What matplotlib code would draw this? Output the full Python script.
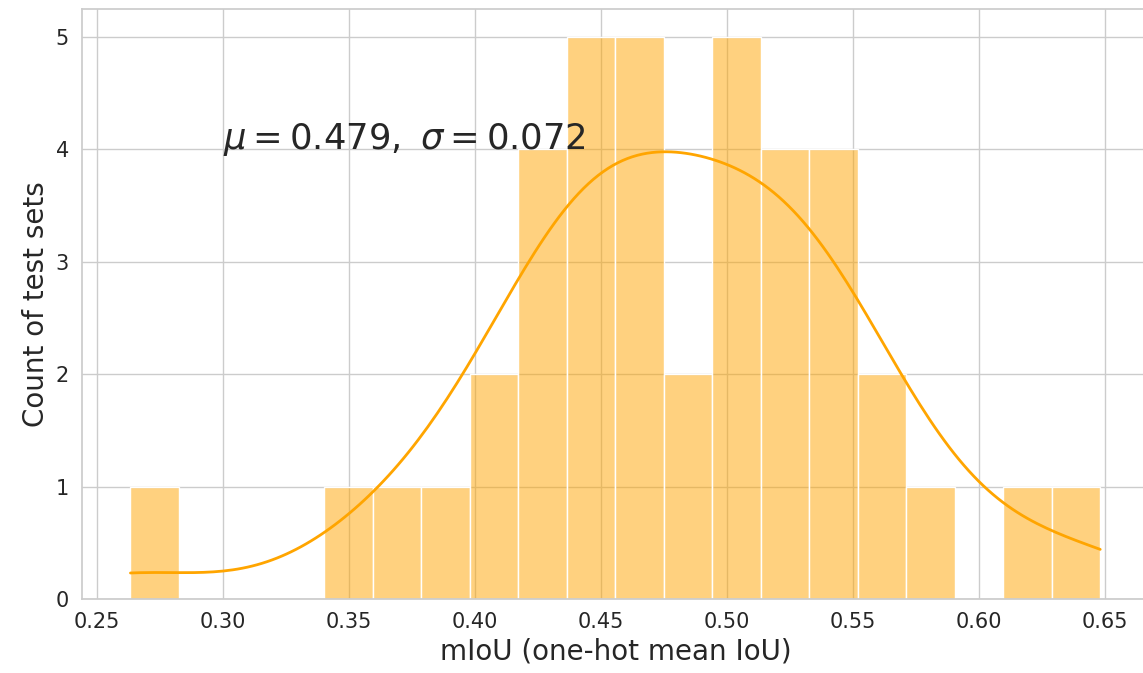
import matplotlib
matplotlib.use("Agg")
import matplotlib.pyplot as plt
import seaborn as sns
import pandas as pd

### mIoU per test set (40 test sets)
miou = [0.2632,
        0.351, 0.369, 0.388,
        0.405, 0.411,
        0.421, 0.426, 0.430, 0.434,
        0.439, 0.443, 0.447, 0.450, 0.454,
        0.459, 0.463, 0.466, 0.469, 0.473,
        0.481, 0.488,
        0.497, 0.501, 0.504, 0.507, 0.511,
        0.517, 0.521, 0.525, 0.530,
        0.536, 0.540, 0.544, 0.549,
        0.558, 0.565,
        0.580,
        0.619,
        0.648]
mu_txt = "0.479"
sigma_txt = "0.072"
x_ticks = [0.25, 0.30, 0.35, 0.40, 0.45, 0.50, 0.55, 0.60, 0.65]

df = pd.DataFrame({"miou": miou})

sns.set_theme(style="whitegrid")
plt.rcParams['font.family'] = ['DejaVu Sans']

fig, ax = plt.subplots(figsize=(11.43, 6.73), dpi=100)
### right edge of the axes sits just past the figure edge, like the original
fig.subplots_adjust(left=0.0717, right=1.005, bottom=0.110, top=0.9866)

sns.histplot(data=df, x="miou", bins=20, kde=True, color="orange",
             line_kws={"linewidth": 2}, ax=ax)

### mean / std annotation
ax.text(0.30, 4.0, r"$\mu = %s,\ \sigma = %s$" % (mu_txt, sigma_txt),
        fontsize=25.5, color="#262626")

ax.set_xticks(x_ticks)
ax.set_xticklabels(["%.2f" % t for t in x_ticks])
ax.tick_params(labelsize=15)
ax.set_xlabel("mIoU (one-hot mean IoU)", fontsize=20)
ax.set_ylabel("Count of test sets", fontsize=20)

plt.savefig("out.png", dpi=100)
